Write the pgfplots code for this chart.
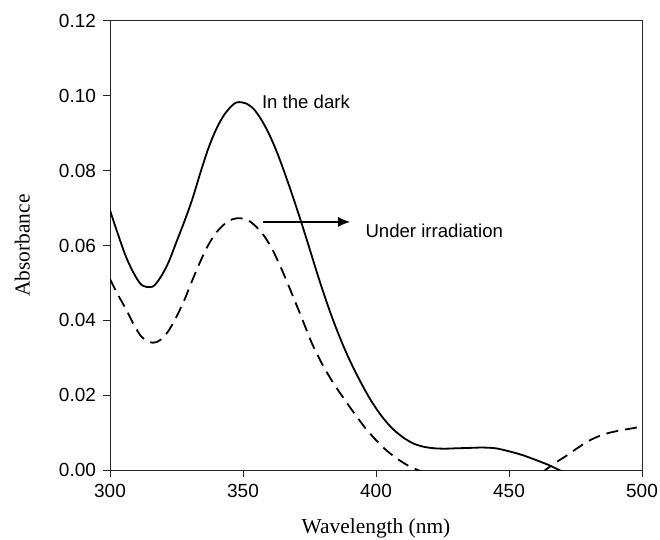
\documentclass[border=0pt]{standalone}
\usepackage{fontspec}
\setmainfont{Liberation Sans}
\newfontfamily\seriffont{Liberation Serif}
\usepackage{pgfplots}
\pgfplotsset{compat=1.18}
\usetikzlibrary{arrows.meta}
\begin{document}
\begin{tikzpicture}
\begin{axis}[
  scale only axis,
  width=266pt, height=224.5pt,
  xmin=300, xmax=500, ymin=0, ymax=0.12,
  xtick={300,350,400,450,500},
  ytick={0,0.02,0.04,0.06,0.08,0.10,0.12},
  yticklabel style={/pgf/number format/.cd,fixed,fixed zerofill,precision=2},
  /pgf/number format/assume math mode=true,
  xticklabel style={/pgf/number format/.cd,1000 sep={}},
  tick label style={font=\fontsize{9.5}{11}\selectfont},
  xtick pos=left, ytick pos=left,
  tick align=outside,
  major tick length=3.5pt,
  axis line style={line width=0.5pt, black!85},
  every tick/.style={black!85,line width=0.5pt},
  xlabel={Wavelength (nm)},
  ylabel={Absorbance},
  label style={font=\seriffont\fontsize{10.7}{12}\selectfont},
  xlabel style={at={(axis description cs:0.5,-0.13)},anchor=center},
  ylabel style={at={(axis description cs:-0.165,0.5)},anchor=center},
  clip=true,
]
\addplot[black, line width=0.9pt, smooth] coordinates {
(300,0.0694) (303,0.0630) (306,0.0570) (309,0.0525) (312,0.0494) (316,0.0490)
(319,0.0515) (322,0.0555) (325,0.0610) (328,0.0665) (331,0.0725) (334,0.0795)
(337,0.0860) (340,0.0912) (343,0.0950) (346,0.0975) (348,0.0983) (351,0.0980)
(354,0.0965) (357,0.0935) (360,0.0895) (363,0.0845) (366,0.0787) (369,0.0725)
(372,0.0660) (375,0.0592) (378,0.0523) (381,0.0458) (384,0.0398) (387,0.0344)
(390,0.0295) (394,0.0238) (398,0.0187) (402,0.0145) (406,0.0112) (410,0.0088)
(414,0.0071) (418,0.0062) (422,0.0058) (426,0.0057) (430,0.0058) (435,0.0059)
(440,0.0060) (445,0.0058) (450,0.0050) (455,0.0040) (460,0.0027) (465,0.0013)
(470,-0.0004) (475,-0.0020)
};
\addplot[black, line width=0.9pt, smooth, dash pattern=on 6pt off 3.5pt] coordinates {
(300,0.0510) (303,0.0468) (306,0.0430) (309,0.0388) (312,0.0355) (316,0.0340)
(319,0.0348) (322,0.0372) (325,0.0410) (328,0.0455) (331,0.0508) (334,0.0558)
(337,0.0602) (340,0.0635) (343,0.0657) (346,0.0670) (349,0.0673) (352,0.0667)
(355,0.0650) (358,0.0625) (361,0.0590) (364,0.0545) (367,0.0495) (370,0.0443)
(373,0.0390) (376,0.0337) (380,0.0280) (384,0.0232) (388,0.0190) (392,0.0150)
(396,0.0112) (400,0.0080) (404,0.0052) (408,0.0030) (412,0.0012) (416,-0.0001)
(420,-0.0015) (440,-0.0050) (460,-0.0015) (464,0.0002) (468,0.0022) (472,0.0040)
(476,0.0060) (480,0.0078) (484,0.0091) (488,0.0100) (492,0.0106) (496,0.0111)
(500,0.0116)
};
\node[anchor=west, inner sep=0pt, font=\fontsize{9.3}{11}\selectfont] at (axis cs:357,0.0985) {In the dark};
\draw[line width=0.8pt, -{Latex[length=6pt,width=5pt]}] (axis cs:357.6,0.0663) -- (axis cs:390.3,0.0663);
\node[anchor=west, inner sep=0pt, font=\fontsize{9.3}{11}\selectfont] at (axis cs:395.9,0.0639) {Under irradiation};
\end{axis}
\pgfresetboundingbox
\path[use as bounding box] ([shift={(-55pt,-34.5pt)}]current axis.south west) rectangle ([shift={(9pt,10.5pt)}]current axis.north east);
\end{tikzpicture}
\end{document}
